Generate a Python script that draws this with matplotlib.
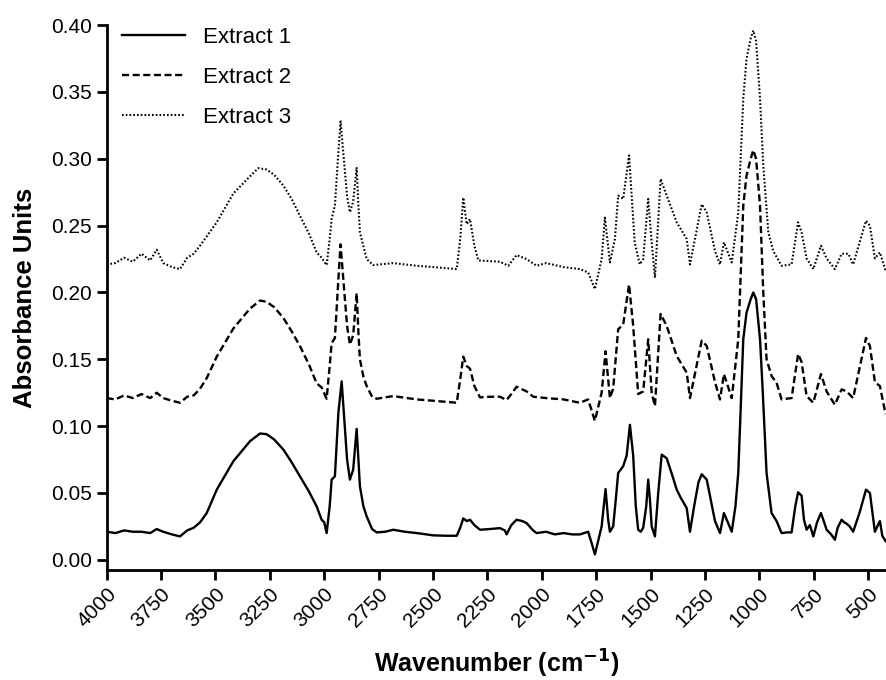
import numpy as np
import matplotlib
matplotlib.use("Agg")
import matplotlib.pyplot as plt

plt.rcParams['font.family'] = ['Liberation Sans', 'DejaVu Sans']

# Spectra (wavenumber, absorbance)
wn1 = [4000, 3960, 3920, 3880, 3840, 3800, 3770, 3740, 3700, 3663, 3630, 3600, 3571, 3540,
       3494, 3418, 3341, 3295, 3265, 3230, 3188, 3150, 3112, 3070, 3035, 3012, 3000, 2989,
       2975, 2966, 2951, 2935, 2920, 2910, 2895, 2882, 2867, 2851, 2843, 2836, 2820, 2805,
       2780, 2759, 2720, 2683, 2630, 2575, 2499, 2440, 2391, 2375, 2361, 2345, 2330, 2310,
       2284, 2240, 2192, 2170, 2162, 2140, 2116, 2090, 2070, 2040, 2024, 1980, 1940, 1900,
       1860, 1825, 1787, 1770, 1756, 1740, 1725, 1707, 1695, 1687, 1672, 1660, 1649, 1626,
       1610, 1595, 1580, 1568, 1557, 1545, 1534, 1520, 1511, 1503, 1495, 1480, 1465, 1449,
       1426, 1400, 1380, 1360, 1334, 1319, 1300, 1280, 1265, 1242, 1220, 1204, 1181, 1163,
       1150, 1127, 1110, 1097, 1074, 1059, 1040, 1028, 1015, 997, 985, 967, 944, 921, 898,
       875, 852, 835, 822, 806, 795, 783, 768, 752, 735, 717, 700, 691, 670, 653, 640, 622,
       610, 599, 585, 569, 540, 510, 492, 480, 469, 455, 446, 435, 420]
abs1 = [0.021, 0.020, 0.022, 0.021, 0.021, 0.020, 0.023, 0.021, 0.019, 0.0175, 0.022, 0.024,
        0.028, 0.035, 0.0525, 0.0737, 0.0888, 0.0945, 0.094, 0.090, 0.0825, 0.073, 0.0625,
        0.051, 0.040, 0.030, 0.028, 0.020, 0.040, 0.060, 0.0625, 0.110, 0.1335, 0.110, 0.075,
        0.060, 0.0675, 0.098, 0.075, 0.055, 0.040, 0.0325, 0.023, 0.0205, 0.021, 0.0225,
        0.021, 0.020, 0.0183, 0.018, 0.018, 0.024, 0.031, 0.029, 0.030, 0.026, 0.0225, 0.023,
        0.0237, 0.022, 0.019, 0.026, 0.030, 0.029, 0.0275, 0.022, 0.020, 0.021, 0.019, 0.020,
        0.019, 0.019, 0.021, 0.012, 0.004, 0.015, 0.025, 0.053, 0.030, 0.021, 0.025, 0.045,
        0.065, 0.070, 0.078, 0.101, 0.078, 0.040, 0.0225, 0.021, 0.024, 0.040, 0.060, 0.045,
        0.025, 0.0175, 0.050, 0.0787, 0.076, 0.063, 0.0525, 0.046, 0.0387, 0.021, 0.040,
        0.058, 0.064, 0.060, 0.042, 0.029, 0.020, 0.035, 0.030, 0.021, 0.040, 0.065, 0.165,
        0.185, 0.195, 0.200, 0.195, 0.165, 0.1275, 0.065, 0.035, 0.029, 0.020, 0.0205, 0.0205,
        0.040, 0.0505, 0.048, 0.030, 0.0225, 0.026, 0.0175, 0.028, 0.035, 0.027, 0.0225,
        0.019, 0.015, 0.024, 0.030, 0.028, 0.027, 0.025, 0.021, 0.035, 0.0525, 0.050, 0.035,
        0.021, 0.026, 0.029, 0.018, 0.014]

wn2 = [4000, 3960, 3920, 3880, 3840, 3800, 3770, 3740, 3700, 3663, 3630, 3600, 3571, 3540,
       3494, 3418, 3341, 3295, 3265, 3230, 3188, 3150, 3112, 3070, 3035, 3012, 2989, 2975,
       2966, 2951, 2935, 2925, 2910, 2895, 2882, 2867, 2851, 2843, 2836, 2820, 2805, 2780,
       2759, 2683, 2575, 2499, 2391, 2375, 2361, 2345, 2330, 2310, 2284, 2240, 2192, 2162,
       2140, 2116, 2070, 2039, 1980, 1900, 1825, 1787, 1756, 1725, 1707, 1687, 1672, 1649,
       1626, 1599, 1580, 1557, 1534, 1511, 1495, 1480, 1454, 1426, 1380, 1334, 1319, 1265,
       1242, 1204, 1181, 1163, 1127, 1097, 1074, 1059, 1040, 1028, 1015, 997, 982, 967, 944,
       921, 898, 852, 822, 806, 783, 752, 717, 691, 653, 622, 599, 569, 510, 492, 469, 446,
       420]
abs2 = [0.121, 0.120, 0.123, 0.121, 0.124, 0.121, 0.125, 0.121, 0.119, 0.1175, 0.122, 0.123,
        0.128, 0.136, 0.152, 0.173, 0.188, 0.194, 0.193, 0.189, 0.181, 0.171, 0.160, 0.146,
        0.132, 0.129, 0.1205, 0.145, 0.162, 0.166, 0.210, 0.236, 0.205, 0.175, 0.161, 0.168,
        0.1995, 0.170, 0.150, 0.137, 0.130, 0.122, 0.1205, 0.1225, 0.120, 0.119, 0.1175,
        0.135, 0.152, 0.145, 0.143, 0.130, 0.1215, 0.122, 0.122, 0.1195, 0.124, 0.1295, 0.126,
        0.122, 0.121, 0.120, 0.1175, 0.120, 0.104, 0.125, 0.156, 0.121, 0.128, 0.1725, 0.176,
        0.206, 0.175, 0.124, 0.126, 0.165, 0.125, 0.115, 0.184, 0.175, 0.1525, 0.140, 0.121,
        0.164, 0.160, 0.133, 0.120, 0.139, 0.121, 0.165, 0.265, 0.2875, 0.300, 0.3065, 0.300,
        0.265, 0.200, 0.150, 0.1375, 0.1325, 0.120, 0.121, 0.154, 0.148, 0.1225, 0.1175,
        0.139, 0.126, 0.116, 0.1275, 0.126, 0.121, 0.166, 0.160, 0.133, 0.130, 0.109]

wn3 = [4000, 3960, 3920, 3880, 3840, 3800, 3770, 3740, 3700, 3663, 3630, 3600, 3571, 3540,
       3494, 3418, 3341, 3303, 3265, 3230, 3188, 3150, 3112, 3070, 3035, 3012, 2989, 2975,
       2966, 2951, 2935, 2925, 2910, 2895, 2882, 2867, 2851, 2843, 2836, 2805, 2775, 2683,
       2575, 2499, 2391, 2375, 2361, 2345, 2330, 2310, 2292, 2192, 2154, 2116, 2070, 2024,
       1980, 1900, 1825, 1787, 1756, 1725, 1710, 1687, 1664, 1649, 1626, 1599, 1573, 1550,
       1534, 1511, 1495, 1480, 1454, 1426, 1380, 1334, 1319, 1265, 1242, 1204, 1181, 1163,
       1127, 1097, 1074, 1059, 1040, 1028, 1015, 997, 982, 959, 936, 898, 852, 822, 806, 783,
       752, 717, 691, 653, 622, 591, 569, 510, 492, 469, 446, 420]
abs3 = [0.221, 0.222, 0.226, 0.223, 0.229, 0.224, 0.232, 0.222, 0.219, 0.2175, 0.226, 0.229,
        0.235, 0.242, 0.2525, 0.274, 0.287, 0.293, 0.292, 0.288, 0.280, 0.270, 0.2575, 0.244,
        0.230, 0.226, 0.2205, 0.240, 0.255, 0.265, 0.305, 0.328, 0.300, 0.272, 0.260, 0.268,
        0.2937, 0.265, 0.245, 0.225, 0.2205, 0.222, 0.220, 0.219, 0.2175, 0.240, 0.271, 0.251,
        0.255, 0.235, 0.224, 0.223, 0.220, 0.228, 0.225, 0.220, 0.222, 0.219, 0.2175, 0.215,
        0.2025, 0.225, 0.256, 0.2225, 0.240, 0.2725, 0.270, 0.3025, 0.2375, 0.221, 0.225,
        0.270, 0.2375, 0.211, 0.285, 0.2725, 0.2525, 0.240, 0.221, 0.266, 0.260, 0.231, 0.221,
        0.2375, 0.2225, 0.260, 0.345, 0.375, 0.390, 0.396, 0.388, 0.345, 0.295, 0.245, 0.231,
        0.220, 0.221, 0.2525, 0.245, 0.2255, 0.2175, 0.235, 0.2255, 0.2175, 0.229, 0.229,
        0.221, 0.2537, 0.250, 0.2255, 0.230, 0.2163]

labels = ['Extract 1', 'Extract 2', 'Extract 3']
x_ticks = [4000, 3750, 3500, 3250, 3000, 2750, 2500, 2250, 2000, 1750, 1500, 1250, 1000, 750, 500]
y_ticks = [0.00, 0.05, 0.10, 0.15, 0.20, 0.25, 0.30, 0.35, 0.40]

fig = plt.figure(figsize=(8.86, 6.8), dpi=100)
ax = fig.add_axes([0.1204, 0.162, 0.8796, 0.801])

ax.plot(wn1, abs1, color='black', lw=1.7, ls='-', label=labels[0])
ax.plot(wn2, abs2, color='black', lw=1.7, ls=(0, (3, 1.5)), label=labels[1])
ax.plot(wn3, abs3, color='black', lw=1.5, ls=(0, (0.8, 1.0)), label=labels[2])

ax.set_xlim(4000, 418)
ax.set_ylim(-0.0075, 0.40)
ax.set_xticks(x_ticks)
ax.set_xticklabels([str(t) for t in x_ticks], rotation=45, ha='right',
                   rotation_mode='anchor', fontsize=15)
ax.set_yticks(y_ticks)
ax.set_yticklabels([f'{t:.2f}' for t in y_ticks], fontsize=15)

for side in ['top', 'right']:
    ax.spines[side].set_visible(False)
for side in ['left', 'bottom']:
    ax.spines[side].set_linewidth(2)
ax.tick_params(direction='out', length=7, width=2)

ax.set_xlabel('Wavenumber (cm$^{\\mathbf{-1}}$)', fontsize=18, fontweight='bold', labelpad=12)
ax.set_ylabel('Absorbance Units', fontsize=18.5, fontweight='bold', labelpad=10)

ax.legend(loc='upper left', bbox_to_anchor=(122 / 886, 1 - 27 / 680),
          bbox_transform=fig.transFigure, frameon=False, fontsize=16,
          borderpad=0, borderaxespad=0, handlelength=2.85, handletextpad=0.8,
          labelspacing=0.85)

fig.savefig('out.png', dpi=100)
